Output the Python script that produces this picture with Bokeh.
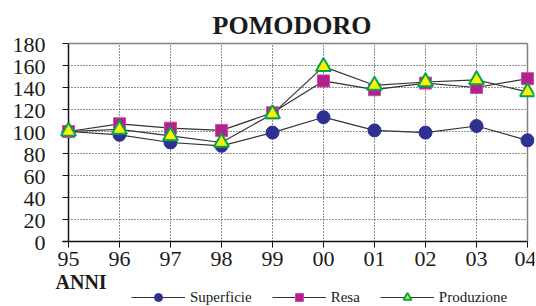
from bokeh.plotting import figure
from bokeh.models import Range1d, FixedTicker, Label, Legend, LegendItem
from bokeh.core.properties import value
from bokeh.embed import file_html
from bokeh.resources import INLINE

# ---- data ----
year_labels = ["95", "96", "97", "98", "99", "00", "01", "02", "03", "04"]
superficie = [100, 97, 90, 87, 99, 113, 101, 99, 105, 92]
resa = [100, 107, 103, 101, 117, 146, 138, 144, 140, 148]
produzione = [100, 102, 96, 90, 116, 159, 142, 145, 147, 136]
y_ticks = [0, 20, 40, 60, 80, 100, 120, 140, 160, 180]
title_text = "POMODORO"
x_title = "ANNI"

xs = list(range(len(year_labels)))

SERIF = "Times New Roman, Liberation Serif, serif"
W, H = 536, 306
RIGHT = 2
AXIS_X = 68         # page x of the first category
PXU = 51.0          # pixels per x unit
PYU = 1.1           # pixels per y unit
TOP_PX = 43         # pixels above the 180 line
pad_l = AXIS_X / PXU
pad_r = 7 / PXU
tick = 6 / PXU
lab_off = 23 / PXU
y_top = y_ticks[-1] + TOP_PX / PYU
y_bot = y_top - H / PYU

p = figure(width=W, height=H, output_backend="svg", toolbar_location=None,
           x_range=Range1d(xs[0] - pad_l, xs[-1] + pad_r),
           y_range=Range1d(y_bot, y_top),
           min_border_left=0, min_border_right=RIGHT,
           min_border_top=0, min_border_bottom=0)
p.outline_line_color = None
p.background_fill_color = "white"
p.border_fill_color = "white"
p.xgrid.grid_line_color = None
p.ygrid.grid_line_color = None
p.yaxis.visible = False

# x axis inside the frame at y = 0
p.xaxis.fixed_location = y_ticks[0]
p.xaxis.ticker = FixedTicker(ticks=xs)
p.xaxis.major_label_overrides = {i: lab for i, lab in enumerate(year_labels)}
p.xaxis.minor_tick_line_color = None
p.xaxis.major_tick_out = 6
p.xaxis.major_tick_in = 0
p.xaxis.axis_line_color = None
p.xaxis.major_tick_line_color = "#111111"
p.xaxis.major_label_text_font = SERIF
p.xaxis.major_label_text_font_size = "22px"
p.xaxis.major_label_text_color = "#1a1a1a"
p.xaxis.major_label_standoff = 4

# y tick labels
p.text(x=[xs[0] - lab_off] * len(y_ticks), y=y_ticks, text=[str(t) for t in y_ticks],
       text_align="right", text_baseline="middle", y_offset=1,
       text_font=value(SERIF), text_font_size="22px", text_color="#1a1a1a")

# dotted grid
p.segment(x0=xs, x1=xs, y0=y_ticks[0], y1=y_ticks[-1],
          line_color="#222222", line_dash="1 2", line_width=1)
p.segment(x0=xs[0], x1=xs[-1], y0=y_ticks, y1=y_ticks,
          line_color="#222222", line_dash="1 2", line_width=1)

# frame lines and tick marks
p.segment(x0=[xs[0]], x1=[xs[0]], y0=[y_ticks[0]], y1=[y_ticks[-1]],
          line_color="#111111", line_width=1.5)
p.segment(x0=xs[0] - tick, x1=xs[0], y0=y_ticks, y1=y_ticks,
          line_color="#111111", line_width=1)
p.segment(x0=[xs[0] - tick], x1=[xs[-1]], y0=[y_ticks[0]], y1=[y_ticks[0]],
          line_color="#111111", line_width=1.5)
p.segment(x0=[xs[-1]], x1=[xs[-1]], y0=[y_ticks[0]], y1=[y_ticks[-1]],
          line_color="#808080", line_width=1.5)
p.segment(x0=[xs[0]], x1=[xs[-1]], y0=[y_ticks[-1]], y1=[y_ticks[-1]],
          line_color="#808080", line_width=1.5)

# series lines
l1 = p.line(xs, superficie, line_color="#333333", line_width=1.2)
l2 = p.line(xs, resa, line_color="#333333", line_width=1.2)
l3 = p.line(xs, produzione, line_color="#333333", line_width=1.2)

# markers
m1 = p.scatter(xs, superficie, marker="circle", size=13,
               fill_color="#2e3192", line_color="#2e3192")
m2 = p.scatter(xs, resa, marker="square", size=12,
               fill_color="#b3218f", line_color="#c84ea6", line_width=1)
m3 = p.scatter(xs, produzione, marker="triangle", size=15,
               fill_color="#fff200", line_color="#00a651", line_width=2)

legend = Legend(items=[LegendItem(label="Superficie", renderers=[l1, m1]),
                       LegendItem(label="Resa", renderers=[l2, m2]),
                       LegendItem(label="Produzione", renderers=[l3, m3])],
                orientation="horizontal", location=(131, -1),
                glyph_width=54, glyph_height=20, label_standoff=5, spacing=20,
                padding=0, margin=0, border_line_color=None,
                background_fill_alpha=0,
                label_text_font=SERIF, label_text_font_size="15px",
                label_text_color="#1a1a1a")
p.add_layout(legend)

p.add_layout(Label(x=291.5, y=H - 33 + 8, x_units="screen", y_units="screen",
                   text=title_text, text_align="center", text_baseline="alphabetic",
                   text_font=SERIF, text_font_style="bold", text_font_size="26px",
                   text_color="#1a1a1a"))
p.add_layout(Label(x=55, y=H - 289 + 8, x_units="screen", y_units="screen",
                   text=x_title, text_align="left", text_baseline="alphabetic",
                   text_font=SERIF, text_font_style="bold", text_font_size="20px",
                   text_color="#1a1a1a"))

open("out.html", "w").write(file_html(p, INLINE))
